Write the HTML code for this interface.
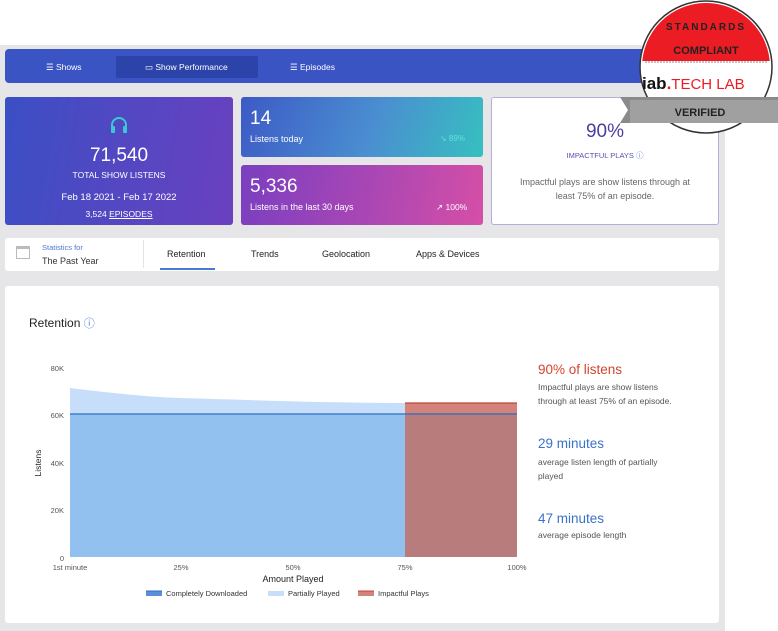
<!DOCTYPE html>
<html><head><meta charset="utf-8"><style>
*{margin:0;padding:0;box-sizing:border-box}
body{width:778px;height:631px;background:#fff;position:relative;overflow:hidden;font-family:"Liberation Sans",sans-serif}
.a{position:absolute}
.bg{left:0;top:45px;width:725px;height:586px;background:#e6e6e9}
.nav{left:5px;top:49px;width:715px;height:34px;background:#3a55c3;border-radius:4px}
.nt{color:#fff;font-size:8.5px}
.card{border-radius:3px}
.w{color:#fff}
</style></head><body>
<div class="a bg"></div>
<div class="a nav"></div>
<div class="a" style="left:116px;top:56px;width:142px;height:22px;background:#2c44aa;border-radius:2px"></div>
<div class="a nt" style="left:46px;top:62px">☰ Shows</div>
<div class="a nt" style="left:145px;top:62px">▭ Show Performance</div>
<div class="a nt" style="left:290px;top:62px">☰ Episodes</div>

<div class="a card" style="left:5px;top:97px;width:228px;height:128px;background:linear-gradient(100deg,#3b4fc4,#6a40c0)"></div>
<svg class="a" style="left:109px;top:115px" width="20" height="20"><path d="M3,14 V10 A7,7 0 0 1 17,10 V14" fill="none" stroke="#3cc7d6" stroke-width="2"/><rect x="2" y="11" width="4" height="7" rx="1" fill="#3cc7d6"/><rect x="14" y="11" width="4" height="7" rx="1" fill="#3cc7d6"/></svg>
<div class="a w" style="left:5px;top:145px;width:228px;text-align:center;font-size:19px">71,540</div>
<div class="a w" style="left:5px;top:170px;width:228px;text-align:center;font-size:8.5px">TOTAL SHOW LISTENS</div>
<div class="a w" style="left:5px;top:192px;width:228px;text-align:center;font-size:9.5px">Feb 18 2021 - Feb 17 2022</div>
<div class="a w" style="left:5px;top:209px;width:228px;text-align:center;font-size:8.5px">3,524 <u>EPISODES</u></div>

<div class="a card" style="left:241px;top:97px;width:242px;height:60px;background:linear-gradient(110deg,#3d5ac6,#4a8fd0 55%,#36c0c0)"></div>
<div class="a w" style="left:250px;top:108px;font-size:19px">14</div>
<div class="a w" style="left:250px;top:134px;font-size:9px">Listens today</div>
<div class="a" style="left:440px;top:134px;font-size:8px;color:#5ee4dc">↘ 89%</div>
<div class="a card" style="left:241px;top:165px;width:242px;height:60px;background:linear-gradient(100deg,#7a3fc0,#a746b5 50%,#d54fa6)"></div>
<div class="a w" style="left:250px;top:176px;font-size:19px">5,336</div>
<div class="a w" style="left:250px;top:202px;font-size:9px">Listens in the last 30 days</div>
<div class="a w" style="left:436px;top:202px;font-size:8.5px">↗ 100%</div>

<div class="a card" style="left:491px;top:97px;width:228px;height:128px;background:#fff;border:1px solid #b5aedb"></div>
<div class="a" style="left:491px;top:121px;width:228px;text-align:center;font-size:19px;color:#4a3fa0">90%</div>
<div class="a" style="left:491px;top:150px;width:228px;text-align:center;font-size:7.5px;color:#5a4fb0">IMPACTFUL PLAYS <span style="color:#4a7bd0">ⓘ</span></div>
<div class="a" style="left:491px;top:175px;width:228px;text-align:center;font-size:9px;line-height:14px;color:#666">Impactful plays are show listens through at<br>least 75% of an episode.</div>

<div class="a card" style="left:5px;top:238px;width:714px;height:33px;background:#fff"></div>
<div class="a" style="left:16px;top:246px;width:14px;height:13px;border:1px solid #bbb;border-top-width:3px"></div>
<div class="a" style="left:42px;top:243px;font-size:7.5px;color:#4a7bd0">Statistics for</div>
<div class="a" style="left:42px;top:256px;font-size:9px;color:#333">The Past Year</div>
<div class="a" style="left:143px;top:240px;width:1px;height:28px;background:#e4e4e4"></div>
<div class="a" style="left:167px;top:249px;font-size:9px;color:#222">Retention</div>
<div class="a" style="left:160px;top:268px;width:55px;height:2px;background:#4a7bd0"></div>
<div class="a" style="left:251px;top:249px;font-size:9px;color:#222">Trends</div>
<div class="a" style="left:322px;top:249px;font-size:9px;color:#222">Geolocation</div>
<div class="a" style="left:416px;top:249px;font-size:9px;color:#222">Apps &amp; Devices</div>

<div class="a card" style="left:5px;top:286px;width:714px;height:337px;background:#fff"></div>
<div class="a" style="left:29px;top:315px;font-size:12px;color:#222">Retention <span style="color:#4a7bd0;font-size:11px">ⓘ</span></div>

<svg class="a" style="left:0;top:0" width="778" height="631">
<g font-family="Liberation Sans" font-size="7.5" fill="#555">
<text x="64" y="371" text-anchor="end">80K</text>
<text x="64" y="418" text-anchor="end">60K</text>
<text x="64" y="466" text-anchor="end">40K</text>
<text x="64" y="513" text-anchor="end">20K</text>
<text x="64" y="561" text-anchor="end">0</text>
<text x="70" y="570" text-anchor="middle">1st minute</text>
<text x="181" y="570" text-anchor="middle">25%</text>
<text x="293" y="570" text-anchor="middle">50%</text>
<text x="405" y="570" text-anchor="middle">75%</text>
<text x="517" y="570" text-anchor="middle">100%</text>
</g>
<path d="M70,388 C110,393 150,397 180,398 C250,400 330,403 405,403 L405,557 L70,557Z" fill="#c6defa"/>
<rect x="70" y="414" width="335" height="143" fill="#92c0ef"/>
<rect x="405" y="403" width="112" height="154" fill="#b77c7b"/>
<rect x="405" y="403" width="112" height="10" fill="#d3837a"/>
<line x1="405" y1="403" x2="517" y2="403" stroke="#c0453a" stroke-width="1.2"/>
<line x1="70" y1="414" x2="517" y2="414" stroke="#2f6fc4" stroke-width="1.3"/>
<text x="41" y="463" transform="rotate(-90 41 463)" text-anchor="middle" font-family="Liberation Sans" font-size="8.5" fill="#222">Listens</text>
<text x="293" y="582" text-anchor="middle" font-family="Liberation Sans" font-size="9" fill="#222">Amount Played</text>
<rect x="146" y="591" width="16" height="5" fill="#5a8fd8"/><line x1="146" y1="591" x2="162" y2="591" stroke="#2f6fc4"/>
<rect x="268" y="591" width="16" height="5" fill="#c6defa"/>
<rect x="358" y="591" width="16" height="5" fill="#d3837a"/><line x1="358" y1="591" x2="374" y2="591" stroke="#c0453a"/>
<g font-family="Liberation Sans" font-size="7.5" fill="#333">
<text x="166" y="596">Completely Downloaded</text>
<text x="288" y="596">Partially Played</text>
<text x="378" y="596">Impactful Plays</text>
</g>
</svg>

<div class="a" style="left:538px;top:362px;font-size:13.5px;color:#d2452e">90% of listens</div>
<div class="a" style="left:538px;top:380px;font-size:8.5px;line-height:14px;color:#555">Impactful plays are show listens<br>through at least 75% of an episode.</div>
<div class="a" style="left:538px;top:436px;font-size:13.5px;color:#3a72c8">29 minutes</div>
<div class="a" style="left:538px;top:455px;font-size:8.5px;line-height:14px;color:#555">average listen length of partially<br>played</div>
<div class="a" style="left:538px;top:511px;font-size:13.5px;color:#3a72c8">47 minutes</div>
<div class="a" style="left:538px;top:530px;font-size:8.5px;color:#555">average episode length</div>

<svg class="a" style="left:0;top:0" width="778" height="631">
<defs><clipPath id="c"><circle cx="706" cy="67" r="64"/></clipPath></defs>
<circle cx="706" cy="67" r="66" fill="#fff" stroke="#333" stroke-width="1.5"/>
<rect x="630" y="0" width="160" height="61" fill="#ec1c24" clip-path="url(#c)"/>
<line x1="645" y1="62" x2="768" y2="62" stroke="#888" stroke-dasharray="2,1"/>
<text x="706" y="54" text-anchor="middle" font-family="Liberation Sans" font-weight="bold" font-size="11" fill="#222">COMPLIANT</text>
<text x="706" y="30" text-anchor="middle" font-family="Liberation Sans" font-weight="bold" font-size="10" fill="#222" letter-spacing="2">STANDARDS</text>
<text x="642" y="89" font-family="Liberation Sans" font-weight="bold" font-size="17" fill="#111">iab<tspan fill="#ec1c24">.</tspan><tspan font-weight="normal" font-size="15" fill="#ec1c24">TECH LAB</tspan></text>
<polygon points="620,97 778,97 778,123 620,123 628,110" fill="#8a8a8a"/>
<rect x="630" y="100" width="148" height="23" fill="#a0a0a0"/>
<text x="700" y="116" text-anchor="middle" font-family="Liberation Sans" font-weight="bold" font-size="11" fill="#222">VERIFIED</text>
</svg>
</body></html>
